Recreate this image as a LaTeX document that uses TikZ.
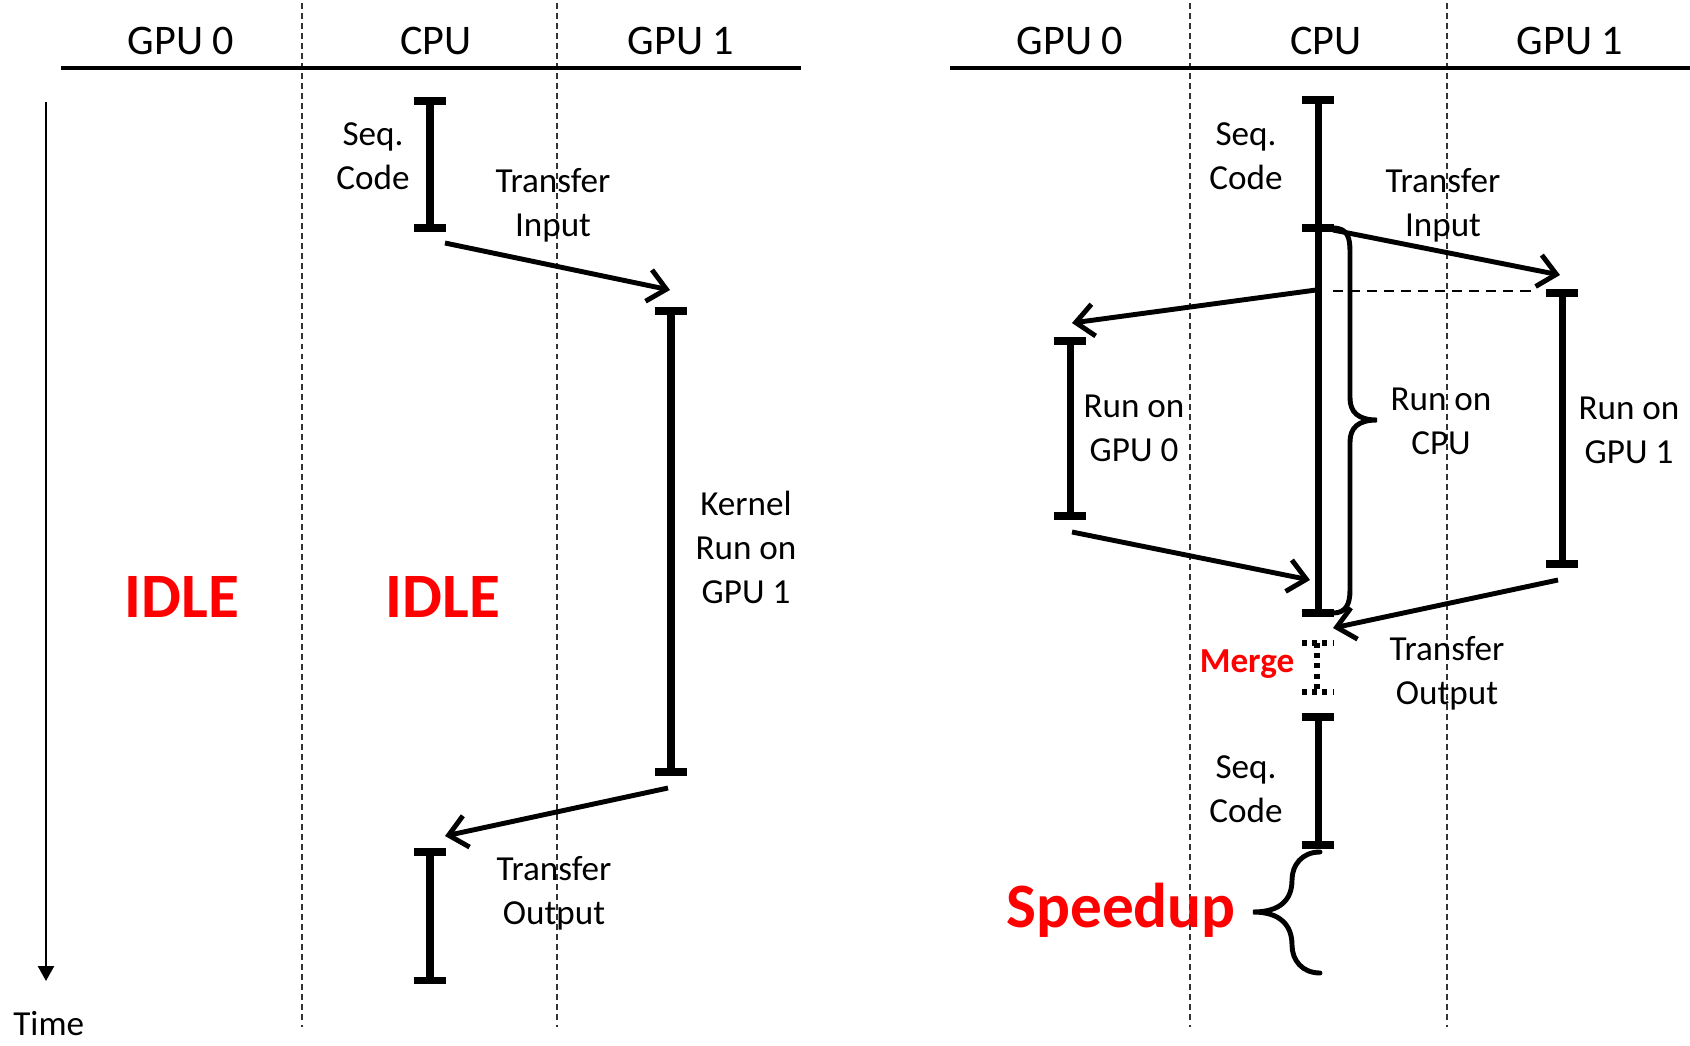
\documentclass[tikz,border=0pt]{standalone}
\usepackage{fontspec}
\setmainfont{Carlito}
\usetikzlibrary{arrows.meta}
\begin{document}
\begin{tikzpicture}[x=0.02cm,y=-0.02cm,
  lbl/.style={inner sep=0pt, anchor=base, align=center, font=\fontsize{20}{25}\selectfont},
  hdr/.style={inner sep=0pt, anchor=base, font=\fontsize{24}{29}\selectfont},
  big/.style={inner sep=0pt, anchor=base, text=red, font=\fontsize{36}{43}\selectfont\bfseries},
  bar/.style={line width=4pt, shorten <=-2pt, shorten >=-2pt, {Bar[width=6.4mm]}-{Bar[width=6.4mm]}},
  barend/.style={line width=4pt, shorten >=-2pt, -{Bar[width=6.4mm]}},
  arr/.style={line width=2.8pt, -{Straight Barb[length=3.6mm,width=6.4mm]}},
  lane/.style={line width=0.8pt, dash pattern=on 3.4pt off 2.3pt, black!80},
  hline/.style={line width=2pt},
  brace/.style={line width=2.8pt, line cap=round},
  dotbar/.style={line width=2.9pt, dash pattern=on 2.9pt off 2.9pt},
]
\useasboundingbox (0,0) rectangle (1690,1045);

% ---------- lanes ----------
\coordinate (l1a) at (302,3);   \coordinate (l1b) at (302,1027);
\coordinate (l2a) at (557,3);   \coordinate (l2b) at (557,1027);
\coordinate (r1a) at (1190,3);  \coordinate (r1b) at (1190,1027);
\coordinate (r2a) at (1447,3);  \coordinate (r2b) at (1447,1027);
\draw[lane] (l1a) -- (l1b);
\draw[lane] (l2a) -- (l2b);
\draw[lane] (r1a) -- (r1b);
\draw[lane] (r2a) -- (r2b);

% ---------- headers ----------
\coordinate (hla) at (61,68);  \coordinate (hlb) at (801,68);
\coordinate (hra) at (950,68); \coordinate (hrb) at (1690,68);
\draw[hline] (hla) -- (hlb);
\draw[hline] (hra) -- (hrb);
\node[hdr] (hL0) at (181,54) {GPU 0};
\node[hdr] (hLc) at (436,54) {CPU};
\node[hdr] (hL1) at (681,54) {GPU 1};
\node[hdr] (hR0) at (1070,54) {GPU 0};
\node[hdr] (hRc) at (1326,54) {CPU};
\node[hdr] (hR1) at (1570,54) {GPU 1};

% ---------- time axis ----------
\coordinate (t0) at (46,102); \coordinate (t1) at (46,981);
\draw[line width=1.4pt, -{Triangle[length=3mm,width=3.2mm]}] (t0) -- (t1);
\node[lbl, anchor=base west] (time) at (13,1035) {Time};

% ---------- left panel ----------
\coordinate (sLa) at (430,101); \coordinate (sLb) at (430,228);
\draw[bar] (sLa) -- (sLb);
\node[lbl] (seqL) at (373,189) {Seq.\\Code};

\coordinate (tiLa) at (445,243); \coordinate (tiLb) at (670,290);
\draw[arr] (tiLa) -- (tiLb);
\node[lbl] (tinL) at (553,236) {Transfer\\Input};

\coordinate (kLa) at (671,311); \coordinate (kLb) at (671,772);
\draw[bar] (kLa) -- (kLb);
\node[lbl] (kern) at (746,603) {Kernel\\Run on\\GPU 1};

\coordinate (toLa) at (668,788); \coordinate (toLb) at (445,836);
\draw[arr] (toLa) -- (toLb);
\coordinate (oLa) at (430,852); \coordinate (oLb) at (430,980);
\draw[bar] (oLa) -- (oLb);
\node[lbl] (toutL) at (554,924) {Transfer\\Output};

\node[big] (idle0) at (182,617) {IDLE};
\node[big] (idle1) at (443,617) {IDLE};

% ---------- right panel ----------
\coordinate (cRa) at (1318,100); \coordinate (cRb) at (1318,228); \coordinate (cRc) at (1318,613);
\draw[bar] (cRa) -- (cRb);
\draw[barend] (cRb) -- (cRc);
\node[lbl] (seqR) at (1246,189) {Seq.\\Code};

\coordinate (tiRa) at (1333,230); \coordinate (tiRb) at (1560,275);
\draw[arr] (tiRa) -- (tiRb);
\node[lbl] (tinR) at (1443,236) {Transfer\\Input};

\coordinate (dsa) at (1333,291); \coordinate (dsb) at (1533,291);
\draw[line width=1.4pt, dash pattern=on 5.7pt off 4pt] (dsa) -- (dsb);

\coordinate (g1a) at (1562,293); \coordinate (g1b) at (1562,564);
\draw[bar] (g1a) -- (g1b);
\node[lbl] (rg1) at (1629,463) {Run on\\GPU 1};

\coordinate (c2a) at (1316,290); \coordinate (c2b) at (1072,323);
\draw[arr] (c2a) -- (c2b);
\coordinate (g0a) at (1070,341); \coordinate (g0b) at (1070,516);
\draw[bar] (g0a) -- (g0b);
\node[lbl] (rg0) at (1134,461) {Run on\\GPU 0};

\coordinate (g0ra) at (1072,532); \coordinate (g0rb) at (1310,580);
\draw[arr] (g0ra) -- (g0rb);

\coordinate (g1ra) at (1558,580); \coordinate (g1rb) at (1333,628);
\draw[arr] (g1ra) -- (g1rb);
\node[lbl] (toutR) at (1447,704) {Transfer\\Output};

% CPU brace
\coordinate (bra) at (1333,228); \coordinate (brt) at (1377,420); \coordinate (brb) at (1333,613);
\draw[brace] (bra) .. controls (1348,228) and (1350,238) .. (1350,252)
  -- (1350,398) .. controls (1350,412) and (1358,420) .. (brt)
  .. controls (1358,420) and (1350,428) .. (1350,442)
  -- (1350,590) .. controls (1350,604) and (1346,613) .. (brb);
\node[lbl] (rcpu) at (1441,454) {Run on\\CPU};

% merge
\coordinate (ma) at (1317,643); \coordinate (mb) at (1317,692);
\draw[dotbar] (ma) -- (mb);
\draw[dotbar] (1302,643) -- (1333,643);
\draw[dotbar] (1302,692) -- (1333,692);
\node[inner sep=0pt, anchor=base, text=red, font=\fontsize{20}{24}\selectfont\bfseries] (merge) at (1247,672) {Merge};

% final seq code
\coordinate (fsa) at (1318,717); \coordinate (fsb) at (1318,845);
\draw[bar] (fsa) -- (fsb);
\node[lbl] (seqR2) at (1246,822) {Seq.\\Code};

% speedup brace
\coordinate (spa) at (1320,852); \coordinate (spt) at (1253,912); \coordinate (spb) at (1320,973);
\draw[brace] (spa) .. controls (1302,852) and (1292,865) .. (1292,880)
  .. controls (1292,900) and (1280,912) .. (spt)
  .. controls (1280,912) and (1292,925) .. (1292,945)
  .. controls (1292,960) and (1302,973) .. (spb);
\node[big] (speed) at (1121,927) {Speedup};
\end{tikzpicture}
\end{document}
